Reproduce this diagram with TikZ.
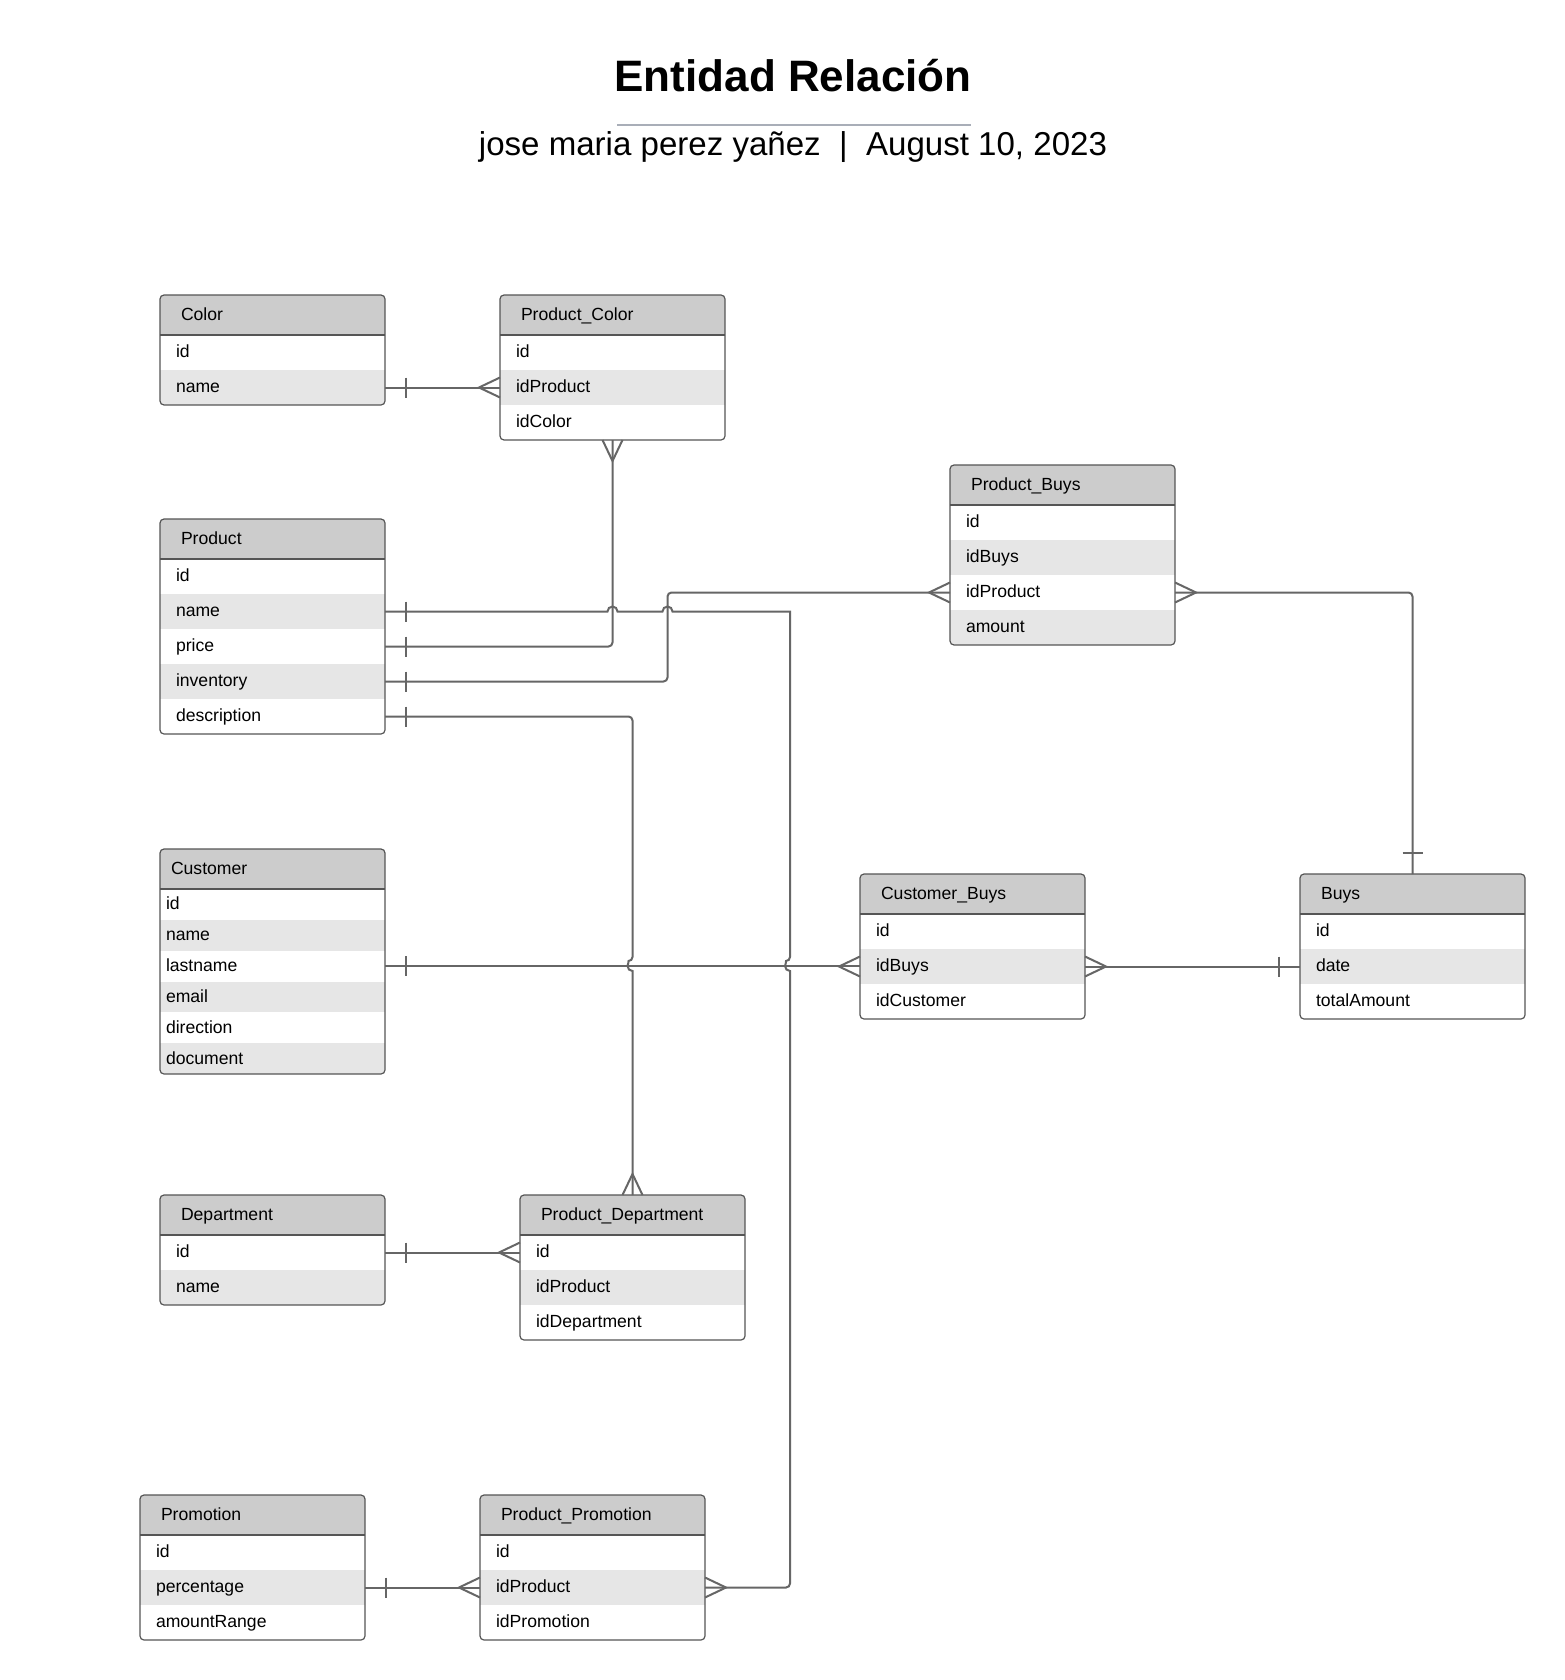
\documentclass[tikz,border=0pt]{standalone}
\usepackage{fontspec}
\setmainfont{Liberation Sans}
\usetikzlibrary{calc}
\definecolor{hdrgray}{HTML}{CCCCCC}
\definecolor{rowgray}{HTML}{E6E6E6}
\definecolor{linkgray}{HTML}{666666}
\definecolor{bordgray}{HTML}{555555}
\definecolor{rulegray}{HTML}{A9AEB8}
\tikzset{
  cell/.style={shape=rectangle, inner sep=0pt, outer sep=0pt, minimum width=168.75pt, anchor=north west},
  hdrcell/.style={cell, fill=hdrgray, minimum height=30pt},
  fieldtxt/.style={anchor=base west, inner sep=0pt, outer sep=0pt, font=\fontsize{13.2pt}{15pt}\selectfont},
  boxline/.style={draw=bordgray, line width=0.9pt},
  link/.style={draw=linkgray, line width=1.5pt, rounded corners=3pt},
  footline/.style={draw=linkgray, line width=1.5pt, sharp corners},
}
% table: #1 name, #2 x, #3 y, #4 row height, #5 indent, #6 title, #7 fields
\newcommand\erTable[7]{%
  \foreach \f [count=\k] in {#7} {\xdef\erN{\k}}%
  \pgfmathsetmacro\erH{40+\erN*#4}%
  \begin{scope}
    \clip[rounded corners=3pt] (#2,#3) rectangle ++(225,\erH);
    \node[hdrcell] (#1-h) at (#2,#3) {};
    \foreach \f [count=\k] in {#7} {%
      \pgfmathsetmacro\erY{#3+40+(\k-1)*#4}%
      \ifodd\k\relax\def\erC{white}\else\def\erC{rowgray}\fi
      \node[cell, minimum height=#4*0.75pt, fill=\erC] (#1-\k) at (#2,\erY) {};
    }
  \end{scope}
  \draw[boxline, rounded corners=3pt] (#2,#3) rectangle ++(225,\erH);
  \draw[boxline] (#1-h.south west) -- (#1-h.south east);
  \node[fieldtxt] (#1-ht) at ([xshift=(#5+5)*0.75pt, yshift=-4.1pt]#1-h.west) {#6};
  \foreach \f [count=\k] in {#7} {%
    \node[fieldtxt] (#1-t\k) at ([xshift=#5*0.75pt, yshift=-4.1pt]#1-\k.west) {\f};
  }
}
% end marks
\newcommand\erCrowL[1]{\draw[footline] (#1) ++(0,-10) -- ++(-21,10) -- ++(21,10);}
\newcommand\erCrowR[1]{\draw[footline] (#1) ++(0,-10) -- ++(21,10) -- ++(-21,10);}
\newcommand\erCrowU[1]{\draw[footline] (#1) ++(-10,0) -- ++(10,-21) -- ++(10,21);}
\newcommand\erCrowD[1]{\draw[footline] (#1) ++(-10,0) -- ++(10,21) -- ++(10,-21);}
\newcommand\erBarR[1]{\draw[footline] (#1) ++(21,-10) -- ++(0,20);}
\newcommand\erBarL[1]{\draw[footline] (#1) ++(-21,-10) -- ++(0,20);}
\newcommand\erBarU[1]{\draw[footline] (#1) ++(-10,-21) -- ++(20,0);}

\begin{document}
\begin{tikzpicture}[x=0.75pt, y=-0.75pt]
\useasboundingbox (0,0) rectangle (1565,1680);
\fill[white] (0,0) rectangle (1565,1680);

% title
\node[anchor=base, inner sep=0pt, font=\fontsize{33pt}{38pt}\selectfont\bfseries] (title) at (793,92) {Entidad Relación};
\coordinate (ruleL) at (617,125);
\coordinate (ruleR) at (971,125);
\draw[draw=rulegray, line width=1.6pt] (ruleL) -- (ruleR);
\node[anchor=base, inner sep=0pt, font=\fontsize{24.8pt}{30pt}\selectfont] (subtitle) at (793,156) {jose maria perez yañez~~|~~August 10, 2023};

% tables
\erTable{color}{160}{295}{35}{16}{Color}{id,name}
\erTable{pcolor}{500}{295}{35}{16}{Product\_Color}{id,idProduct,idColor}
\erTable{product}{160}{519}{35}{16}{Product}{id,name,price,inventory,description}
\erTable{pbuys}{950}{465}{35}{16}{Product\_Buys}{id,idBuys,idProduct,amount}
\erTable{customer}{160}{849}{30.8333}{6}{Customer}{id,name,lastname,email,direction,document}
\erTable{cbuys}{860}{874}{35}{16}{Customer\_Buys}{id,idBuys,idCustomer}
\erTable{buys}{1300}{874}{35}{16}{Buys}{id,date,totalAmount}
\erTable{dept}{160}{1195}{35}{16}{Department}{id,name}
\erTable{pdept}{520}{1195}{35}{16}{Product\_Department}{id,idProduct,idDepartment}
\erTable{promo}{140}{1495}{35}{16}{Promotion}{id,percentage,amountRange}
\erTable{ppromo}{480}{1495}{35}{16}{Product\_Promotion}{id,idProduct,idPromotion}

% connectors
% Color -- Product_Color
\draw[link] (color-2.east) -- (pcolor-2.west);
\erBarR{color-2.east} \erCrowL{pcolor-2.west}
% Product_Color -- Product.price
\draw[link] (pcolor-3.south) |- (product-3.east);
\erCrowD{pcolor-3.south} \erBarR{product-3.east}
% Product.inventory -- Product_Buys
\draw[link] (product-4.east) -- ++(282.5,0) |- (pbuys-3.west);
\erBarR{product-4.east} \erCrowL{pbuys-3.west}
% Product.name -- Product_Promotion (with hops)
\draw[link, sharp corners] (product-2.east) -- ++(222.5,0)
  arc[start angle=180, end angle=360, radius=5] -- ++(45,0)
  arc[start angle=180, end angle=360, radius=5] -- ++(117.5,0)
  [rounded corners=3pt] -- ++(0,349.5)
  [sharp corners] arc[start angle=270, end angle=90, radius=5] -- ++(0,1)
  [rounded corners=3pt] |- (ppromo-2.east);
\erBarR{product-2.east} \erCrowR{ppromo-2.east}
% Product.description -- Product_Department
\draw[link] (product-5.east) -- ++(247.5,0) -- ++(0,244.5)
  [sharp corners] arc[start angle=270, end angle=90, radius=5] -- (pdept-h.north);
\erBarR{product-5.east} \erCrowU{pdept-h.north}
% Product_Buys -- Buys
\draw[link] (pbuys-3.east) -| (buys-h.north);
\erCrowR{pbuys-3.east} \erBarU{buys-h.north}
% Customer -- Customer_Buys
\draw[link] (customer-3.east) -- (customer-3.east -| cbuys-2.west);
\erBarR{customer-3.east} \erCrowL{cbuys-2.west}
% Customer_Buys -- Buys
\draw[link] (cbuys-2.east) -- (buys-2.west);
\erCrowR{cbuys-2.east} \erBarL{buys-2.west}
% Department -- Product_Department
\draw[link] (dept-1.east) -- (pdept-1.west);
\erBarR{dept-1.east} \erCrowL{pdept-1.west}
% Promotion -- Product_Promotion
\draw[link] (promo-2.east) -- (ppromo-2.west);
\erBarR{promo-2.east} \erCrowL{ppromo-2.west}
\end{tikzpicture}
\end{document}
